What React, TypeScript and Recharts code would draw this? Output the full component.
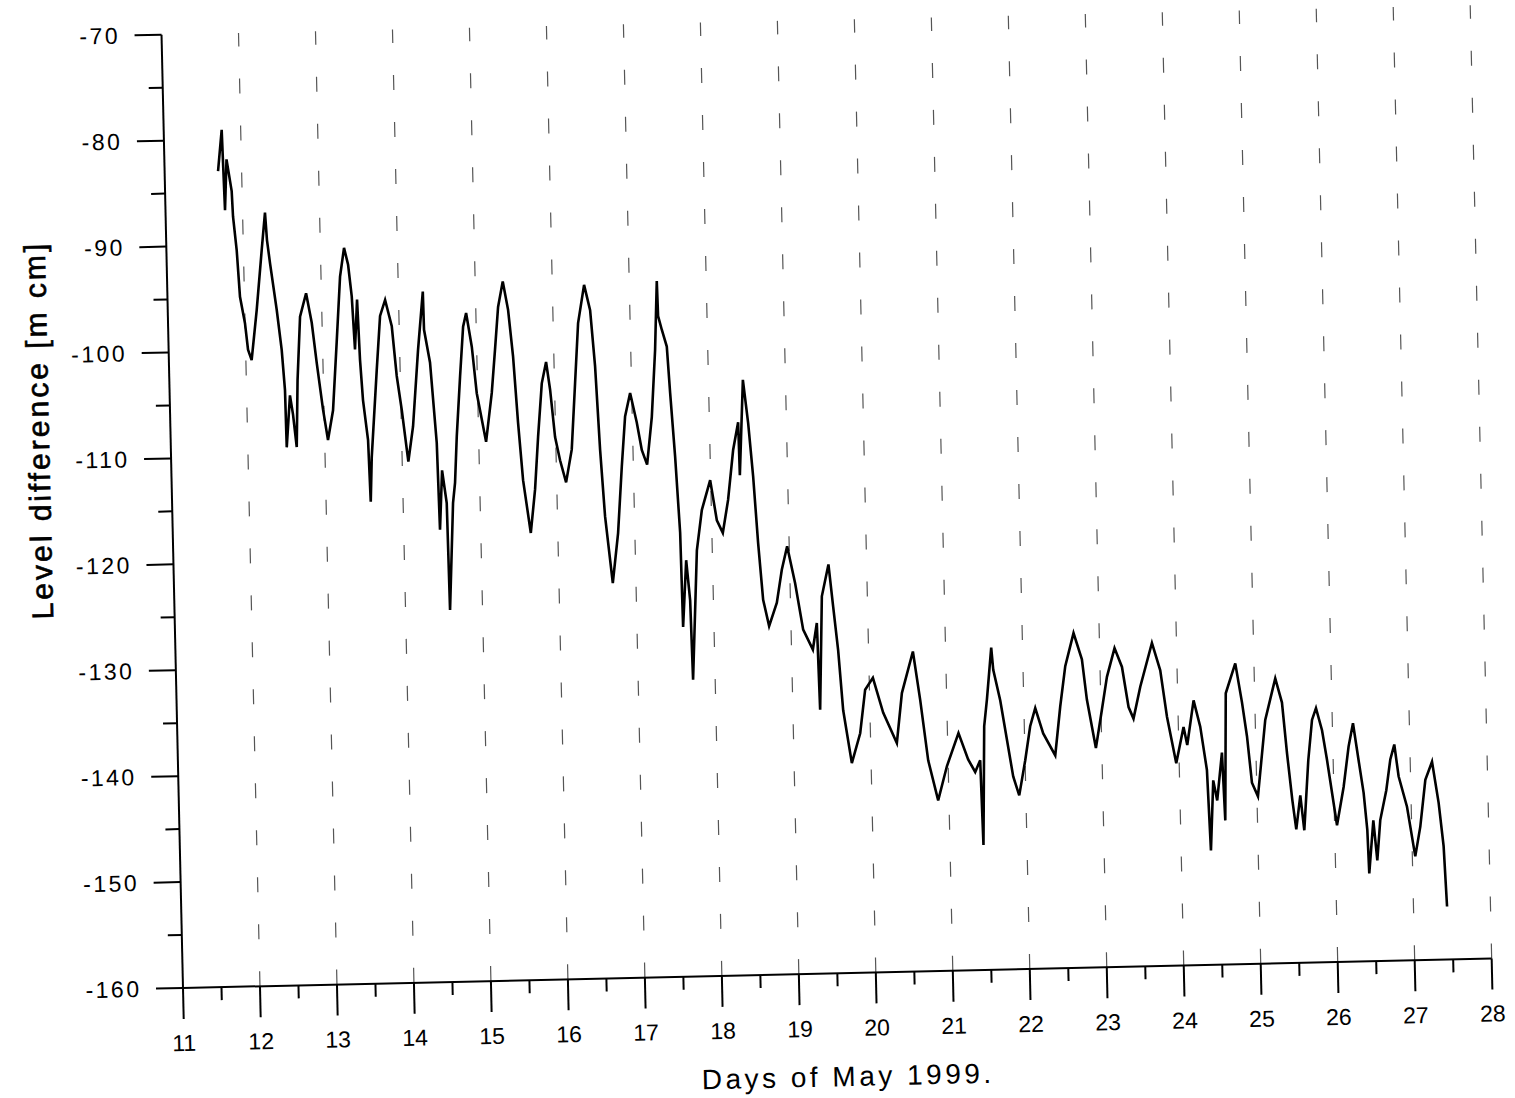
import React from 'react';
import { LineChart, Line, XAxis, YAxis, ReferenceLine, Label } from 'recharts';

// ---- data: [day of May 1999, level difference (m cm)] ----
const may11to13: [number, number][] = [
  [11.694, -83.0], [11.753, -79.1], [11.773, -86.7], [11.807, -81.9], [11.865, -84.9],
  [11.875, -87.3], [11.913, -90.5], [11.942, -94.9], [11.999, -97.4], [12.031, -99.9],
  [12.075, -100.9], [12.155, -96.2], [12.238, -90.5], [12.291, -87.0], [12.309, -89.6],
  [12.342, -91.8], [12.415, -96.2], [12.468, -100.0], [12.499, -103.8], [12.505, -109.2],
  [12.562, -104.3], [12.596, -106.1], [12.635, -109.2], [12.665, -102.9], [12.716, -96.9],
  [12.801, -94.7], [12.866, -97.5], [12.919, -101.3], [12.987, -105.7], [13.043, -108.6],
  [13.117, -105.8], [13.184, -99.4], [13.247, -93.2], [13.307, -90.5], [13.355, -92.1],
  [13.393, -95.1], [13.42, -100.1], [13.461, -95.4], [13.482, -101.1], [13.509, -104.9],
  [13.563, -108.7], [13.58, -114.5], [13.606, -110.3], [13.696, -102.1], [13.755, -97.0],
  [13.825, -95.5], [13.904, -98.0], [13.954, -102.7],
];

const may14to16: [number, number][] = [
  [14.009, -105.9], [14.08, -110.8], [14.151, -107.5], [14.238, -100.3], [14.317, -94.8],
  [14.322, -98.4], [14.39, -101.5], [14.454, -109.1], [14.471, -117.3], [14.515, -111.7],
  [14.566, -114.8], [14.578, -124.9], [14.648, -114.8], [14.68, -112.9], [14.716, -108.5],
  [14.776, -102.9], [14.83, -98.2], [14.873, -96.9], [14.937, -100.1], [14.988, -104.5],
  [15.095, -109.1], [15.183, -104.5], [15.238, -100.4], [15.29, -96.4], [15.358, -94.0],
  [15.419, -96.7], [15.47, -101.1], [15.516, -107.4], [15.564, -112.8], [15.649, -117.8],
  [15.717, -113.7], [15.772, -108.7], [15.835, -103.7], [15.897, -101.7], [15.941, -104.3],
  [15.992, -108.8], [16.05, -111.0], [16.122, -113.1], [16.205, -110.0], [16.268, -103.7],
  [16.324, -98.1], [16.413, -94.5], [16.484, -96.9], [16.532, -102.2], [16.573, -110.1],
  [16.618, -116.4], [16.699, -122.7], [16.782, -118.0], [16.85, -111.7], [16.907, -107.0],
  [16.979, -104.8],
];

const may17to19: [number, number][] = [
  [17.057, -107.6], [17.114, -110.2], [17.179, -111.6], [17.254, -107.1], [17.316, -100.8],
  [17.358, -94.3], [17.365, -97.6], [17.409, -98.9], [17.469, -100.5], [17.499, -104.9],
  [17.545, -110.9], [17.588, -118.1], [17.599, -127.0], [17.658, -120.7], [17.698, -124.5],
  [17.713, -132.0], [17.8, -119.8], [17.876, -116.0], [17.993, -113.2], [18.068, -117.0],
  [18.142, -118.2], [18.22, -115.1], [18.3, -110.4], [18.373, -107.8], [18.38, -112.8],
  [18.447, -103.8], [18.503, -107.9], [18.552, -112.9], [18.597, -119.2], [18.646, -124.6],
  [18.716, -127.1], [18.823, -124.9], [18.897, -121.8], [18.973, -119.6], [19.066, -123.1],
  [19.157, -127.5], [19.277, -129.4], [19.336, -126.9], [19.354, -135.1], [19.409, -124.4],
  [19.504, -121.4], [19.553, -125.4], [19.605, -129.5], [19.653, -135.2], [19.75, -140.2],
  [19.867, -137.4], [19.944, -133.3],
];

const may20to23: [number, number][] = [
  [20.048, -132.2], [20.171, -135.5], [20.34, -138.4], [20.42, -133.7], [20.575, -129.8],
  [20.656, -134.4], [20.742, -140.1], [20.86, -143.9], [20.983, -140.7], [21.143, -137.6],
  [21.261, -140.1], [21.349, -141.3], [21.417, -140.2], [21.435, -148.2], [21.479, -137.0],
  [21.522, -134.5], [21.593, -129.6], [21.613, -131.7], [21.695, -134.6], [21.77, -138.3],
  [21.841, -141.8], [21.914, -143.6], [22.002, -140.3], [22.076, -137.1], [22.147, -135.4],
  [22.243, -137.8], [22.393, -139.9], [22.472, -135.3], [22.549, -131.5], [22.666, -128.4],
  [22.767, -130.9], [22.82, -134.7], [22.923, -139.3], [23.012, -135.7], [23.087, -132.6],
  [23.194, -129.9], [23.285, -131.7], [23.359, -135.5], [23.42, -136.6], [23.517, -133.6],
  [23.681, -129.5], [23.781, -132.1], [23.855, -136.5], [23.962, -140.9],
];

const may24to27: [number, number][] = [
  [24.067, -137.5], [24.11, -139.2], [24.205, -135.0], [24.284, -137.5], [24.358, -141.6],
  [24.387, -149.2], [24.437, -142.6], [24.483, -144.5], [24.558, -140.0], [24.582, -146.4],
  [24.625, -134.4], [24.757, -131.6], [24.833, -135.3], [24.888, -138.5], [24.939, -142.9],
  [25.013, -144.2], [25.13, -137.0], [25.272, -133.1], [25.352, -135.4], [25.403, -140.2],
  [25.458, -144.6], [25.501, -147.4], [25.563, -144.2], [25.605, -147.5], [25.677, -140.9],
  [25.737, -137.1], [25.792, -136.0], [25.864, -138.1], [25.92, -140.9], [26.031, -147.1],
  [26.128, -143.5], [26.204, -139.7], [26.268, -137.5], [26.33, -141.0], [26.386, -144.1],
  [26.423, -147.6], [26.436, -151.7], [26.504, -146.7], [26.544, -150.5], [26.594, -146.7],
  [26.681, -143.9], [26.742, -141.0], [26.798, -139.6], [26.845, -142.6], [26.945, -145.5],
  [27.038, -150.2], [27.112, -147.4], [27.191, -143.0], [27.283, -141.3], [27.357, -145.2],
  [27.409, -149.3], [27.436, -155.0],
];

// ---- ticks / labels ----
const xMajorTicks = [11, 12, 13, 14, 15, 16, 17, 18, 19, 20, 21, 22, 23, 24, 25, 26, 27, 28];
const xMinorTicks = [11.5, 12.5, 13.5, 14.5, 15.5, 16.5, 17.5, 18.5, 19.5, 20.5, 21.5, 22.5, 23.5, 24.5, 25.5, 26.5, 27.5];
const yMajorTicks = [-160, -150, -140, -130, -120, -110, -100, -90, -80, -70];
const yMinorTicks = [-155, -145, -135, -125, -115, -105, -95, -85, -75];
const gridDays = [12, 13, 14, 15, 16, 17, 18, 19, 20, 21, 22, 23, 24, 25, 26, 27, 28];
const xDomain: [number, number] = [11, 28];
const yDomain: [number, number] = [-160, -70];
const xTitle = 'Days of May 1999.';
const yTitle = 'Level difference [m cm]';

const data = [...may11to13, ...may14to16, ...may17to19, ...may20to23, ...may24to27].map(
  ([day, level]) => ({ day, level })
);

// ---- layout ----
const W = 1515;
const H = 1130;
const PLOT_LEFT = 183;
const PLOT_TOP = 34.5;
const PLOT_BOTTOM = 988;
const PLOT_RIGHT = 1492;
const FONT = '"Liberation Sans", Arial, Helvetica, sans-serif';

const XTick = (props: any) => {
  const { x, payload } = props;
  const v = Number(payload.value);
  const major = Math.abs(v - Math.round(v)) < 1e-6;
  return (
    <g>
      <line x1={x} x2={x} y1={PLOT_BOTTOM} y2={PLOT_BOTTOM + (major ? 31 : 13)} stroke="#000" strokeWidth={2} />
      {major && (
        <text x={x} y={PLOT_BOTTOM + 63} textAnchor="middle" fontFamily={FONT} fontSize={23} fill="#000">
          {v}
        </text>
      )}
    </g>
  );
};

const YTick = (props: any) => {
  const { y, payload } = props;
  const v = Number(payload.value);
  const major = Math.abs(v / 10 - Math.round(v / 10)) < 1e-6;
  return (
    <g>
      <line x1={PLOT_LEFT} x2={PLOT_LEFT - (major ? 27 : 14)} y1={y} y2={y} stroke="#000" strokeWidth={2} />
      {major && (
        <text
          x={PLOT_LEFT - 41.5}
          y={y + 8}
          textAnchor="end"
          fontFamily={FONT}
          fontSize={23}
          letterSpacing={2.5}
          fill="#000"
        >
          {v}
        </text>
      )}
    </g>
  );
};

const XTitle = () => (
  <text
    x={846}
    y={1101}
    textAnchor="middle"
    fontFamily={FONT}
    fontSize={28}
    letterSpacing={3.5}
    fill="#000"
  >
    {xTitle}
  </text>
);

const YTitle = () => (
  <text
    x={51}
    y={427}
    transform="rotate(-90 51 427)"
    textAnchor="middle"
    dominantBaseline="central"
    fontFamily={FONT}
    fontSize={30}
    letterSpacing={3}
    fill="#000"
    stroke="#000"
    strokeWidth={0.6}
  >
    {yTitle}
  </text>
);

export default function App() {
  const xTicks = [...xMajorTicks, ...xMinorTicks].sort((a, b) => a - b);
  const yTicks = [...yMajorTicks, ...yMinorTicks].sort((a, b) => a - b);
  return (
    <div
      style={{
        position: 'absolute',
        left: 0,
        top: 0,
        width: 1515,
        height: 1098,
        overflow: 'hidden',
        background: '#fff',
      }}
    >
      <div
        style={{
          width: W,
          height: H,
          transform: 'rotate(-1.29deg)',
          transformOrigin: `${PLOT_LEFT}px ${PLOT_BOTTOM}px`,
        }}
      >
        <LineChart
          width={W}
          height={H}
          data={data}
          margin={{ top: PLOT_TOP, right: W - PLOT_RIGHT, bottom: H - PLOT_BOTTOM - 60, left: PLOT_LEFT - 100 }}
        >
          <XAxis
            dataKey="day"
            type="number"
            domain={xDomain}
            ticks={xTicks}
            interval={0}
            tick={<XTick />}
            tickLine={false}
            axisLine={{ stroke: '#000', strokeWidth: 2 }}
            height={60}
            allowDataOverflow
          >
            <Label content={<XTitle />} />
          </XAxis>
          <YAxis
            type="number"
            domain={yDomain}
            ticks={yTicks}
            interval={0}
            tick={<YTick />}
            tickLine={false}
            axisLine={{ stroke: '#000', strokeWidth: 2 }}
            width={100}
            allowDataOverflow
          >
            <Label content={<YTitle />} />
          </YAxis>
          {gridDays.map((d) => (
            <ReferenceLine
              key={d}
              x={d}
              stroke="#555"
              strokeWidth={1.2}
              strokeDasharray="15 32"
            />
          ))}
          <Line
            type="linear"
            dataKey="level"
            stroke="#000"
            strokeWidth={2.6}
            dot={false}
            isAnimationActive={false}
          />
        </LineChart>
      </div>
    </div>
  );
}
